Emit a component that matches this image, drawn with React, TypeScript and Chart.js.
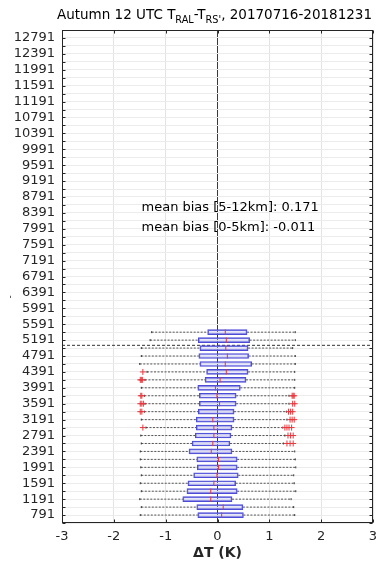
import React, { useEffect, useRef } from 'react';
import { Chart, registerables } from 'chart.js';

Chart.register(...registerables);

// ---- data ----
const heights = [791, 991, 1191, 1391, 1591, 1791, 1991, 2191, 2391, 2591, 2791, 2991, 3191, 3391, 3591, 3791, 3991, 4191, 4391, 4591, 4791, 4991, 5191, 5391];
const whiskerLow = [-1.49, -1.47, -1.50, -1.47, -1.49, -1.47, -1.48, -1.49, -1.49, -1.47, -1.48, -1.38, -1.47, -1.41, -1.40, -1.41, -1.47, -1.40, -1.36, -1.50, -1.47, -1.47, -1.30, -1.27];
const quart1 = [-0.38, -0.40, -0.67, -0.59, -0.57, -0.46, -0.39, -0.40, -0.55, -0.49, -0.43, -0.41, -0.41, -0.37, -0.35, -0.35, -0.38, -0.24, -0.21, -0.34, -0.36, -0.34, -0.37, -0.19];
const medians = [0.08, 0.11, -0.13, -0.13, -0.07, -0.01, 0.02, 0.02, -0.12, -0.09, -0.07, -0.07, -0.09, 0.00, 0.04, -0.01, -0.04, 0.05, 0.17, 0.15, 0.19, 0.16, 0.17, 0.15];
const quart3 = [0.50, 0.49, 0.28, 0.38, 0.35, 0.40, 0.38, 0.38, 0.28, 0.24, 0.26, 0.28, 0.32, 0.32, 0.36, 0.36, 0.44, 0.55, 0.59, 0.66, 0.60, 0.59, 0.62, 0.57];
const whiskerHigh = [1.49, 1.47, 1.42, 1.51, 1.48, 1.47, 1.51, 1.50, 1.49, 1.27, 1.30, 1.26, 1.34, 1.33, 1.38, 1.38, 1.49, 1.49, 1.49, 1.50, 1.50, 1.45, 1.50, 1.50];

const outlierHeights = [
  2591, 2591, 2591,
  2791, 2791, 2791,
  2991, 2991, 2991, 2991, 2991,
  3191, 3191, 3191,
  3391, 3391, 3391, 3391, 3391,
  3591, 3591, 3591, 3591, 3591,
  3791, 3791, 3791, 3791, 3791,
  4191, 4191, 4191,
  4391,
];
const outlierValues = [
  1.34, 1.40, 1.46,
  1.36, 1.41, 1.46,
  -1.44, 1.30, 1.34, 1.38, 1.43,
  1.40, 1.44, 1.48,
  -1.46, -1.49, 1.37, 1.41, 1.45,
  -1.43, -1.46, -1.49, 1.45, 1.49,
  -1.46, -1.48, 1.44, 1.46, 1.48,
  -1.45, -1.47, -1.49,
  -1.44,
];

const boundaryHeight = 5060;
const yMin = 591;
const yMax = 12991;
const yStep = 200;
const yLabelFirst = 791;
const yLabelLast = 12791;
const yLabelStep = 400;
const xMin = -3;
const xMax = 3;

const titleParts = [
  { text: 'Autumn 12 UTC T', sub: false },
  { text: 'RAL', sub: true },
  { text: '-T', sub: false },
  { text: "RS'", sub: true },
  { text: ', 20170716-20181231', sub: false },
];
const annotationLines = ['mean bias [5-12km]: 0.171', 'mean bias [0-5km]: -0.011'];
const xTitle = 'ΔT (K)';
const yTitle = '-';

const FONT = '"DejaVu Sans", sans-serif';
const AXIS_COLOR = '#262626';

const decorPlugin = {
  id: 'decor',
  afterDraw(chart: any) {
    const ctx = chart.ctx;
    const { left, right, top, bottom } = chart.chartArea;
    const xs = chart.scales.x;
    const ys = chart.scales.y;
    ctx.save();
    // frame
    ctx.strokeStyle = AXIS_COLOR;
    ctx.lineWidth = 1;
    const L = Math.round(left) + 0.5, R = Math.round(right) - 0.5, T = Math.round(top) + 0.5, B = Math.round(bottom) - 0.5;
    ctx.strokeRect(L, T, R - L, B - T);
    // inward ticks
    const tl = 3;
    ctx.beginPath();
    ys.ticks.forEach((t: any) => {
      const y = Math.round(ys.getPixelForValue(t.value)) + 0.5;
      ctx.moveTo(L, y); ctx.lineTo(L + tl, y);
      ctx.moveTo(R, y); ctx.lineTo(R - tl, y);
    });
    xs.ticks.forEach((t: any) => {
      const x = Math.round(xs.getPixelForValue(t.value)) + 0.5;
      ctx.moveTo(x, B); ctx.lineTo(x, B - tl);
      ctx.moveTo(x, T); ctx.lineTo(x, T + tl);
    });
    ctx.stroke();

    // title with subscripts
    const mainFont = `13.5px ${FONT}`;
    const subFont = `9.7px ${FONT}`;
    let total = 0;
    titleParts.forEach((p) => {
      ctx.font = p.sub ? subFont : mainFont;
      total += ctx.measureText(p.text).width;
    });
    let cx = (left + right) / 2 - 3 - total / 2;
    const baseY = 18.5;
    ctx.fillStyle = '#000';
    ctx.textBaseline = 'alphabetic';
    ctx.textAlign = 'left';
    titleParts.forEach((p) => {
      ctx.font = p.sub ? subFont : mainFont;
      ctx.fillText(p.text, cx, p.sub ? baseY + 4.5 : baseY);
      cx += ctx.measureText(p.text).width;
    });

    // annotations
    ctx.font = `13px ${FONT}`;
    ctx.textBaseline = 'middle';
    ctx.fillStyle = '#000';
    annotationLines.forEach((s, i) => {
      ctx.fillText(s, left + 79.5, top + 177.5 + i * 20.5);
    });

    // x title
    ctx.font = `bold 14px ${FONT}`;
    ctx.textAlign = 'center';
    ctx.fillStyle = AXIS_COLOR;
    ctx.fillText(xTitle, (left + right) / 2, 553.5);

    // tiny y title
    ctx.save();
    ctx.translate(11, 297);
    ctx.rotate(-Math.PI / 2);
    ctx.font = `9px ${FONT}`;
    ctx.fillText(yTitle, 0, 0);
    ctx.restore();
    ctx.restore();
  },
};

export default function App() {
  const ref = useRef<HTMLCanvasElement | null>(null);
  useEffect(() => {
    if (!ref.current) return;
    const boxes = heights.map((h, i) => ({ x: [quart1[i], quart3[i]], y: h }));
    const whiskers: any[] = [];
    heights.forEach((h, i) => {
      whiskers.push({ x: whiskerLow[i], y: h }, { x: quart1[i], y: h }, { x: null, y: null });
      whiskers.push({ x: quart3[i], y: h }, { x: whiskerHigh[i], y: h }, { x: null, y: null });
    });
    const caps: any[] = [];
    heights.forEach((h, i) => {
      caps.push({ x: whiskerLow[i], y: h }, { x: whiskerHigh[i], y: h });
    });
    const meds = heights.map((h, i) => ({ x: medians[i], y: h }));
    const outs = outlierHeights.map((h, i) => ({ x: outlierValues[i], y: h }));

    const chart = new Chart(ref.current, {
      type: 'bar',
      data: {
        datasets: [
          {
            type: 'scatter',
            data: meds,
            pointStyle: 'line',
            rotation: 90,
            radius: 2.6,
            borderColor: '#e03a3a',
            borderWidth: 1,
            backgroundColor: '#e03a3a',
          } as any,
          {
            type: 'scatter',
            data: outs,
            pointStyle: 'cross',
            radius: 3,
            borderColor: '#e8383d',
            borderWidth: 1,
            backgroundColor: '#e8383d',
          } as any,
          {
            type: 'bar',
            data: boxes,
            indexAxis: 'y',
            barThickness: 5,
            borderWidth: 1,
            borderSkipped: false,
            borderColor: '#4b4bd6',
            backgroundColor: 'rgba(190,190,245,0.35)',
          } as any,
          {
            type: 'scatter',
            data: caps,
            pointStyle: 'line',
            rotation: 90,
            radius: 1,
            borderColor: '#333',
            borderWidth: 1,
          } as any,
          {
            type: 'line',
            data: whiskers,
            borderColor: '#555',
            borderWidth: 1,
            borderDash: [2, 1.5],
            pointRadius: 0,
            spanGaps: false,
            fill: false,
          } as any,
          {
            type: 'line',
            data: [{ x: xMin, y: boundaryHeight }, { x: xMax, y: boundaryHeight }],
            borderColor: '#333',
            borderWidth: 1,
            borderDash: [3, 2],
            pointRadius: 0,
            fill: false,
          } as any,
        ],
      },
      options: {
        responsive: false,
        animation: false,
        indexAxis: 'y',
        events: [],
        layout: { padding: { top: 30, right: 7, left: 0, bottom: 0 } },
        plugins: {
          legend: { display: false },
          tooltip: { enabled: false },
          title: { display: false },
        },
        scales: {
          x: {
            type: 'linear',
            min: xMin,
            max: xMax,
            offset: false,
            grid: {
              drawTicks: false,
              color: (c: any) => (c.tick && c.tick.value === 0 ? '#3a3a3a' : '#e3e3e3'),
              lineWidth: 1,
            },
            border: { display: false },
            ticks: {
              stepSize: 1,
              padding: 6,
              color: AXIS_COLOR,
              font: { family: FONT, size: 13 },
              callback: (v: any) => String(v),
            },
            afterFit: (s: any) => { s.height = 43; s.paddingLeft = 0; s.paddingRight = 0; },
          },
          y: {
            type: 'linear',
            min: yMin,
            max: yMax,
            offset: false,
            grid: { drawTicks: false, offset: false, color: '#ececec', lineWidth: 1 },
            border: { display: false },
            ticks: {
              stepSize: yStep,
              autoSkip: false,
              padding: 7,
              color: AXIS_COLOR,
              font: { family: FONT, size: 13 },
              callback: (v: any) => {
                const n = Math.round(Number(v));
                return n >= yLabelFirst && n <= yLabelLast && (n - yLabelFirst) % yLabelStep === 0 ? String(n) : '';
              },
            },
            afterFit: (s: any) => { s.width = 62; s.paddingTop = 0; s.paddingBottom = 0; },
          },
        },
      } as any,
      plugins: [decorPlugin],
    });
    return () => chart.destroy();
  }, []);
  return (
    <div style={{ position: 'absolute', left: 0, top: 0, width: 380, height: 566, background: '#fff' }}>
      <canvas ref={ref} width={380} height={566} style={{ display: 'block' }} />
    </div>
  );
}
